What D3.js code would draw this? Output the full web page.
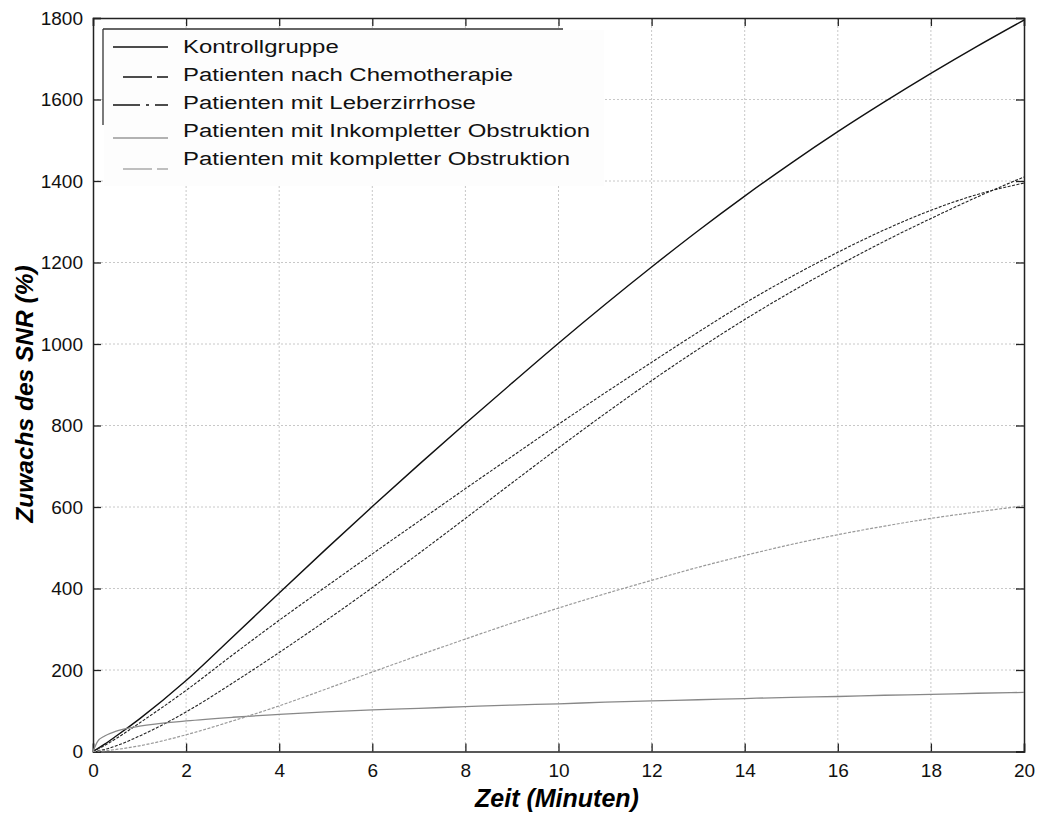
<!DOCTYPE html>
<html>
<head>
<meta charset="utf-8">
<script src="https://cdn.jsdelivr.net/npm/d3@7/dist/d3.min.js"></script>
<style>
  html, body { margin: 0; padding: 0; background: #fff; }
  svg { display: block; font-family: "Liberation Sans", Arial, sans-serif; }
</style>
</head>
<body>
<svg id="chart" width="1041" height="814"></svg>
<script>
// ---- data ----
const times = [0, 0.1, 0.25, 0.5, 1, 2, 3, 4, 5, 6, 7, 8, 9, 10, 11, 12, 13, 14, 15, 16, 17, 18, 19, 20];
const kontrollgruppe = [0, 7, 18, 38, 80, 174, 281, 389, 496, 601, 704, 805, 904, 1002, 1097, 1189, 1278, 1363, 1444, 1521, 1594, 1664, 1731, 1795];
const chemotherapie = [0, 6, 15, 32, 70, 150, 237, 322, 404, 485, 565, 645, 724, 803, 880, 955, 1029, 1100, 1165, 1225, 1280, 1328, 1367, 1395];
const leberzirrhose = [0, 2, 5, 14, 38, 97, 168, 243, 321, 402, 486, 572, 659, 745, 829, 910, 987, 1060, 1128, 1192, 1252, 1308, 1361, 1410];
const inkomplett = [0, 25, 38, 50, 62, 75, 84, 91, 97, 102, 106, 110, 114, 117, 121, 124, 127, 130, 133, 135, 138, 140, 143, 145];
const komplett = [0, 1, 2, 5, 14, 41, 75, 112, 153, 195, 236, 276, 315, 352, 387, 420, 452, 481, 508, 532, 553, 572, 588, 603];
const seriesNames = [
  "Kontrollgruppe",
  "Patienten nach Chemotherapie",
  "Patienten mit Leberzirrhose",
  "Patienten mit Inkompletter Obstruktion",
  "Patienten mit kompletter Obstruktion"
];
const xTicks = [0, 2, 4, 6, 8, 10, 12, 14, 16, 18, 20];
const yTicks = [0, 200, 400, 600, 800, 1000, 1200, 1400, 1600, 1800];
const xTitle = "Zeit (Minuten)";
const yTitle = "Zuwachs des SNR (%)";

// ---- layout ----
const L = 93, R = 1024, T = 18, B = 751.5;
const svg = d3.select("#chart");
const x = d3.scaleLinear().domain([0, 20]).range([L, R]);
const y = d3.scaleLinear().domain([0, 1800]).range([B, T]);

// grid
const grid = svg.append("g").attr("stroke", "#c8c8c8").attr("stroke-width", 1).attr("stroke-dasharray", "2,2");
grid.selectAll(".gx").data(xTicks.slice(1, -1)).join("line")
  .attr("x1", d => x(d)).attr("x2", d => x(d)).attr("y1", T).attr("y2", B);
grid.selectAll(".gy").data(yTicks.slice(1, -1)).join("line")
  .attr("y1", d => y(d)).attr("y2", d => y(d)).attr("x1", L).attr("x2", R);

// axes
const tickLen = 8;
const axB = svg.append("g").attr("transform", `translate(0,${B})`)
  .call(d3.axisBottom(x).tickValues(xTicks).tickSize(-tickLen).tickPadding(12).tickFormat(d3.format("d")));
const axL = svg.append("g").attr("transform", `translate(${L},0)`)
  .call(d3.axisLeft(y).tickValues(yTicks).tickSize(-tickLen).tickPadding(10).tickFormat(d3.format("d")));
const axT = svg.append("g").attr("transform", `translate(0,${T})`)
  .call(d3.axisTop(x).tickValues(xTicks).tickSize(-tickLen).tickFormat(""));
const axR = svg.append("g").attr("transform", `translate(${R},0)`)
  .call(d3.axisRight(y).tickValues(yTicks).tickSize(-tickLen).tickFormat(""));
[axB, axL, axT, axR].forEach(a => {
  a.select(".domain").attr("stroke", "#222").attr("stroke-width", 1.5);
  a.selectAll(".tick line").attr("stroke", "#222").attr("stroke-width", 1.3);
  a.selectAll(".tick text").attr("fill", "#111").attr("font-size", 19).attr("font-family", "Liberation Sans, Arial, sans-serif");
});

// lines
const seriesData = [kontrollgruppe, chemotherapie, leberzirrhose, inkomplett, komplett];
const styles = [
  { stroke: "#111", width: 1.4, dash: null },
  { stroke: "#222", width: 1.1, dash: "3,1.5" },
  { stroke: "#222", width: 1.1, dash: "3,1.5" },
  { stroke: "#888", width: 1.3, dash: null },
  { stroke: "#9a9a9a", width: 1.2, dash: "3,1.5" }
];
const line = d3.line().x(d => x(d[0])).y(d => y(d[1])).curve(d3.curveMonotoneX);
const plot = svg.append("g");
seriesData.forEach((vals, i) => {
  plot.append("path")
    .datum(times.map((t, j) => [t, vals[j]]))
    .attr("fill", "none")
    .attr("stroke", styles[i].stroke)
    .attr("stroke-width", styles[i].width)
    .attr("stroke-dasharray", styles[i].dash)
    .attr("d", line);
});

// legend
const lg = svg.append("g");
lg.append("rect").attr("x", 104).attr("y", 30).attr("width", 500).attr("height", 156).attr("fill", "#fdfdfd");
lg.append("line").attr("x1", 103).attr("x2", 563).attr("y1", 29).attr("y2", 29).attr("stroke", "#333").attr("stroke-width", 1.3);
lg.append("line").attr("x1", 103).attr("x2", 103).attr("y1", 29).attr("y2", 125).attr("stroke", "#333").attr("stroke-width", 1.3);
const textY = [46, 74, 102, 130, 158];
const sampleY = [47, 77, 105, 138, 169];
const samples = [
  [[113, 168]],
  [[123, 152], [157, 168]],
  [[113, 140], [146, 149], [155, 168]],
  [[113, 168]],
  [[123, 152], [157, 168]]
];
const sampleColors = ["#111", "#111", "#111", "#999", "#aaa"];
seriesNames.forEach((name, i) => {
  samples[i].forEach(seg => {
    lg.append("line").attr("x1", seg[0]).attr("x2", seg[1]).attr("y1", sampleY[i]).attr("y2", sampleY[i])
      .attr("stroke", sampleColors[i]).attr("stroke-width", 1.5);
  });
  lg.append("text").attr("transform", `translate(183,${textY[i]}) scale(1.26,1)`).attr("dy", "0.35em")
    .attr("font-size", 19).attr("fill", "#111").text(name);
});

// axis titles
svg.append("text").attr("x", 557).attr("y", 807).attr("text-anchor", "middle")
  .attr("font-size", 25).attr("font-weight", "bold").attr("font-style", "italic").attr("fill", "#000").text(xTitle);
svg.append("text").attr("transform", `translate(33,394) rotate(-90)`).attr("text-anchor", "middle")
  .attr("font-size", 24.5).attr("font-weight", "bold").attr("font-style", "italic").attr("fill", "#000").text(yTitle);
</script>
</body>
</html>
